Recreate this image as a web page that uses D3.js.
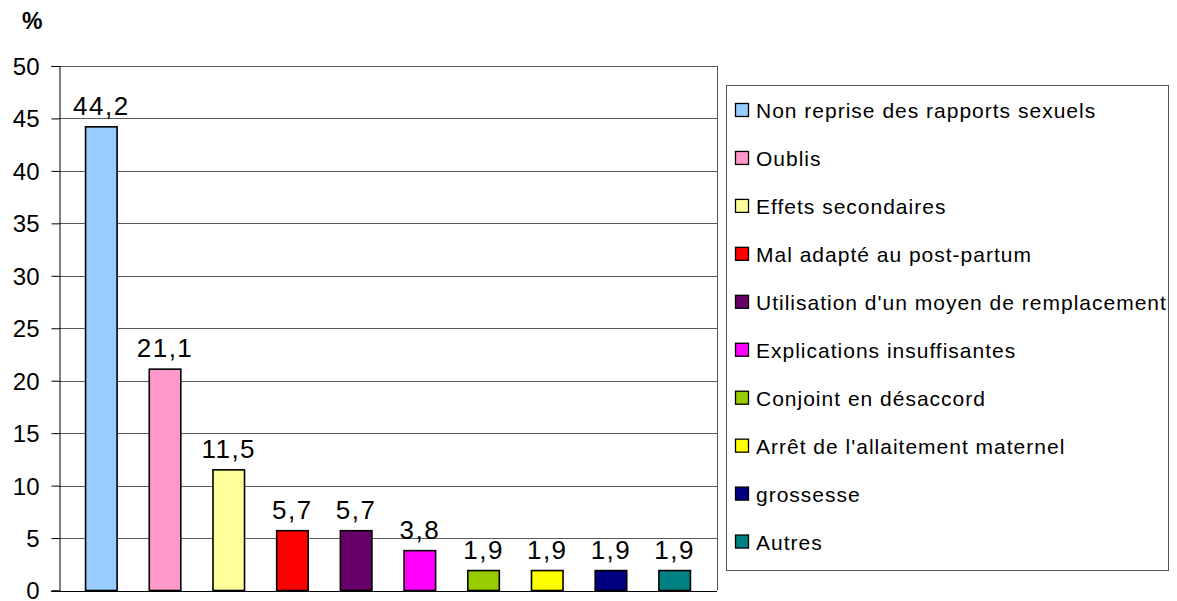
<!DOCTYPE html>
<html><head><meta charset="utf-8">
<script src="https://cdn.jsdelivr.net/npm/d3@7"></script>
<style>body{margin:0;background:#fff}svg{display:block}text{font-family:"Liberation Sans",Arial,sans-serif}</style>
</head><body><svg id="c" width="1177" height="601"></svg>
<script>
const categories = ["Non reprise des rapports sexuels","Oublis","Effets secondaires","Mal adapté au post-partum","Utilisation d'un moyen de remplacement","Explications insuffisantes","Conjoint en désaccord","Arrêt de l'allaitement maternel","grossesse","Autres"];
const values = [44.2,21.1,11.5,5.7,5.7,3.8,1.9,1.9,1.9,1.9];
const colors = ["#99CCFF","#FF99CC","#FFFF99","#FF0000","#660066","#FF00FF","#99CC00","#FFFF00","#000080","#008080"];
const yTicks = [0,5,10,15,20,25,30,35,40,45,50];
const fmt = v => String(v).replace(".", ",");

const svg = d3.select("#c");
const L = 59, R = 717, T = 66, B = 590.5;
const y = d3.scaleLinear().domain([0,50]).range([B,T]);
const x = d3.scaleBand().domain(categories).range([L,R]).paddingInner(0.505).paddingOuter(0.417);

// gridlines
svg.append("g").selectAll("line").data(yTicks.filter(d=>d>0)).join("line")
  .attr("x1",L).attr("x2",R).attr("y1",d=>Math.round(y(d))+0.5).attr("y2",d=>Math.round(y(d))+0.5)
  .attr("stroke","#5a5a5a").attr("stroke-width",1);
// right border
svg.append("line").attr("x1",R+0.5).attr("x2",R+0.5).attr("y1",T).attr("y2",B).attr("stroke","#5a5a5a");

// y axis
const ax = svg.append("g").attr("transform",`translate(${L+0.5},0)`)
  .call(d3.axisLeft(y).tickValues(yTicks).tickSize(8).tickPadding(12).tickFormat(d=>d));
ax.select(".domain").attr("stroke","#000");
ax.selectAll(".tick line").attr("stroke","#000");
ax.selectAll(".tick text").attr("font-size",24).attr("fill","#000").attr("dy","0.35em");
// baseline
svg.append("line").attr("x1",L-8).attr("x2",R).attr("y1",Math.round(B)+0.5).attr("y2",Math.round(B)+0.5).attr("stroke","#000");

// bars
svg.append("g").selectAll("rect").data(values).join("rect")
  .attr("x",(d,i)=>x(categories[i]))
  .attr("y",d=>y(d))
  .attr("width",x.bandwidth())
  .attr("height",d=>B-y(d))
  .attr("fill",(d,i)=>colors[i])
  .attr("stroke","#000").attr("stroke-width",1.6);

// labels
svg.append("g").selectAll("text").data(values).join("text")
  .attr("x",(d,i)=>x(categories[i])+x.bandwidth()/2)
  .attr("y",d=>y(d)-12)
  .attr("text-anchor","middle").attr("font-size",26).attr("letter-spacing","1.5px")
  .text(d=>fmt(d));

// % title
svg.append("text").attr("x",22).attr("y",29).attr("font-size",23).attr("font-weight","bold").text("%");

// legend
const lg = svg.append("g");
lg.append("rect").attr("x",726.5).attr("y",85.5).attr("width",442).attr("height",485)
  .attr("fill","#fff").attr("stroke","#555").attr("stroke-width",1);
const ly = i => 110.5 + i*47.95;
lg.selectAll("rect.sw").data(categories).join("rect").attr("class","sw")
  .attr("x",735.5).attr("y",(d,i)=>ly(i)-7).attr("width",13).attr("height",13)
  .attr("fill",(d,i)=>colors[i]).attr("stroke","#000").attr("stroke-width",1.3);
lg.selectAll("text").data(categories).join("text")
  .attr("x",756).attr("y",(d,i)=>ly(i)+7.5)
  .attr("font-size",21).attr("letter-spacing","1px")
  .text(d=>d);
</script></body></html>
